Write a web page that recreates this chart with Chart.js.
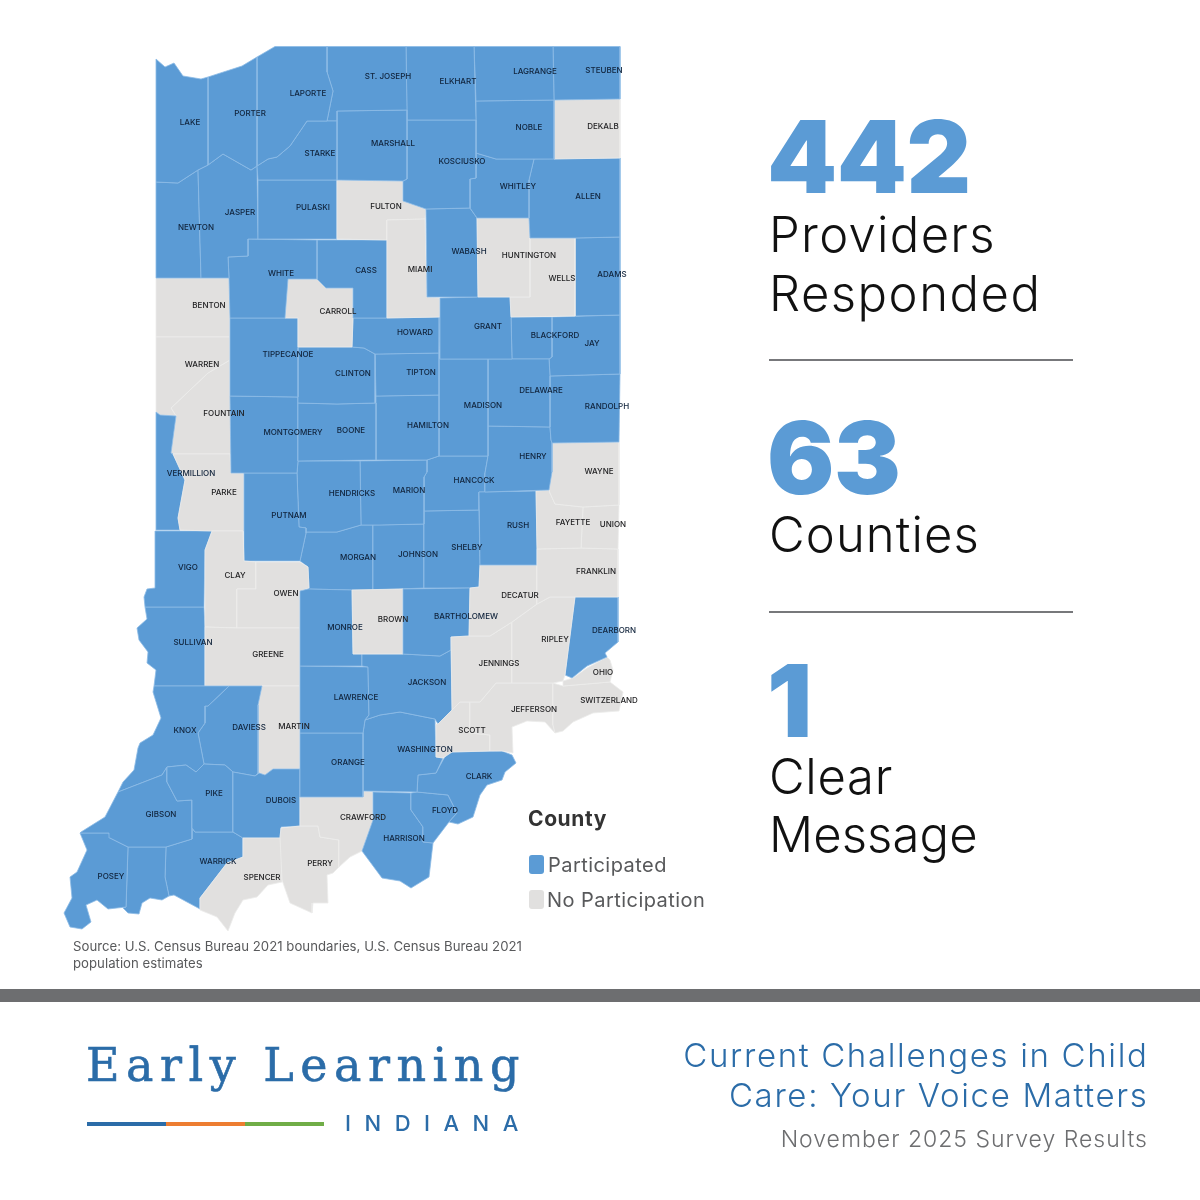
<!DOCTYPE html>
<html lang="en">
<head>
<meta charset="utf-8">
<title>Current Challenges in Child Care: Your Voice Matters</title>
<script src="https://cdn.jsdelivr.net/npm/chart.js@4/dist/chart.umd.min.js"></script>
<style>
html,body{margin:0;padding:0;background:#fff;}
#stage{position:relative;width:1200px;height:1200px;overflow:hidden;font-family:Inter,"Open Sans",sans-serif;}
#map{position:absolute;left:0;top:0;width:1200px;height:1200px;}
.t{position:absolute;white-space:nowrap;line-height:1;}
.big{left:767px;font-weight:900;font-size:100px;color:#5b9bd5;letter-spacing:-.5px;}
.sub{left:769px;font-weight:300;font-size:49px;color:#111;}
.rule{position:absolute;left:769px;width:304px;height:2px;background:#77787b;}
.swatch{position:absolute;left:529px;width:15px;height:19px;border-radius:3px;}
.leg{left:547px;font-size:20px;color:#58595b;letter-spacing:.45px;}
.src{left:73px;font-size:13.2px;color:#58595b;letter-spacing:.02px;}
.head{right:51.5px;font-size:33px;font-weight:300;color:#2b6ca8;letter-spacing:1.65px;}
</style>
</head>
<body>
<div id="stage">
<canvas id="map" width="1200" height="1200"></canvas>
<div class="t big" style="top:107px">442</div>
<div class="t sub" style="top:210px;letter-spacing:1.3px">Providers</div>
<div class="t sub" style="top:269px;letter-spacing:1.5px">Responded</div>
<div class="rule" style="top:359px"></div>
<div class="t big" style="top:408px">63</div>
<div class="t sub" style="top:510px;letter-spacing:1.1px">Counties</div>
<div class="rule" style="top:611px"></div>
<div class="t big" style="top:651px">1</div>
<div class="t sub" style="top:752px;letter-spacing:.7px">Clear</div>
<div class="t sub" style="top:810px;letter-spacing:.1px">Message</div>
<div class="t" style="left:528px;top:808px;font-size:21px;font-weight:700;color:#333;letter-spacing:.6px">County</div>
<div class="swatch" style="top:855px;background:#5b9bd5"></div>
<div class="t leg" style="top:855px;left:548px">Participated</div>
<div class="swatch" style="top:890px;background:#e1e0df"></div>
<div class="t leg" style="top:890px">No Participation</div>
<div class="t src" style="top:940px">Source: U.S. Census Bureau 2021 boundaries, U.S. Census Bureau 2021</div>
<div class="t src" style="top:957px">population estimates</div>
<div style="position:absolute;left:0;top:989px;width:1200px;height:13px;background:#6d6e70"></div>
<div class="t" style="left:86px;top:1042px;font-family:'DejaVu Serif',serif;font-size:46px;color:#2b6ca8;letter-spacing:6.5px;-webkit-text-stroke:.6px #2b6ca8">Early Learning</div>
<div style="position:absolute;left:87px;top:1122px;width:79px;height:4px;background:#2b6ca8"></div>
<div style="position:absolute;left:166px;top:1122px;width:79px;height:4px;background:#ed7d31"></div>
<div style="position:absolute;left:245px;top:1122px;width:79px;height:4px;background:#70ad47"></div>
<div class="t" style="left:345px;top:1112px;font-size:22px;font-weight:500;color:#2b6ca8;letter-spacing:13.5px">INDIANA</div>
<div class="t head" style="top:1039px">Current Challenges in Child</div>
<div class="t head" style="top:1079px">Care: Your Voice Matters</div>
<div class="t" style="right:52px;top:1128px;font-size:23px;font-weight:300;color:#6d6e70;letter-spacing:1px">November 2025 Survey Results</div>
</div>
<script>
// County outlines (x, y on the 1200 × 1200 map scales)
const LAKE=[[156,59],[165,67],[174,63],[183,76],[201,79],[208,77],[208,165],[198,170],[178,183],[156,182]];
const PORTER=[[208,77],[242,66],[257,57],[257,166],[251,170],[223,154],[208,165]];
const LAPORTE=[[257,57],[275,46.5],[327,46.5],[327,72],[333,91],[327,121],[307,121],[290,146],[277,157],[268,159],[257,166]];
const STARKE=[[307,121],[337,121],[337,180],[258,180],[257,166],[268,159],[277,157],[290,146]];
const ST_JOSEPH=[[327,46.5],[406,46.5],[407,110],[337,111],[337,121],[327,121],[333,91],[327,72]];
const MARSHALL=[[337,111],[407,110],[407,179],[403,181],[337,180]];
const ELKHART=[[406,46.5],[474,46.5],[476,120],[407,120]];
const KOSCIUSKO=[[407,120],[476,120],[476,153],[476,178],[470,179],[470,208],[426,209],[403,201],[403,181],[407,179]];
const LAGRANGE=[[474,46.5],[553,46.5],[554,100],[476,101]];
const STEUBEN=[[553,46.5],[620,46.5],[620,99],[554,100]];
const NOBLE=[[476,101],[554,100],[554,159],[496,159],[476,153]];
const DEKALB=[[554,100],[620,99],[620,158],[554,159]];
const WHITLEY=[[476,153],[496,159],[534,159],[529,180],[529,218],[477,218],[470,208],[470,179],[476,178]];
const ALLEN=[[534,159],[620,158],[620,237],[575,238],[530,238],[529,218],[529,180]];
const HUNTINGTON=[[477,218],[529,218],[530,238],[530,297],[478,297]];
const WELLS=[[530,238],[575,238],[575,316],[511,317],[510,297],[530,297]];
const ADAMS=[[575,238],[620,237],[620,315],[575,316]];
const WABASH=[[426,209],[470,208],[477,218],[478,297],[427,297]];
const GRANT=[[440,298],[478,297],[510,297],[511,317],[512,359],[488,359],[440,359]];
const MIAMI=[[387,220],[425,219],[427,297],[440,298],[440,317],[387,318]];
const FULTON=[[337,180],[403,181],[403,201],[426,209],[425,219],[387,220],[387,240],[337,239]];
const PULASKI=[[258,180],[337,180],[337,239],[258,239]];
const JASPER=[[198,170],[208,165],[223,154],[251,170],[257,166],[258,239],[248,239],[248,256],[228,257],[229,278],[201,278]];
const NEWTON=[[156,182],[178,183],[198,170],[201,278],[156,278]];
const WHITE=[[248,239],[317,240],[317,279],[288,279],[285,318],[230,318],[229,278],[228,257],[248,256]];
const CASS=[[317,240],[387,240],[387,318],[353,318],[353,288],[326,288],[317,279]];
const CARROLL=[[288,279],[317,279],[326,288],[353,288],[353,318],[352,347],[298,347],[298,318],[285,318]];
const HOWARD=[[353,318],[387,318],[440,317],[439,353],[380,354],[375,354],[364,348],[352,347]];
const TIPPECANOE=[[230,318],[285,318],[298,318],[298,347],[298,397],[230,396]];
const CLINTON=[[298,347],[352,347],[364,348],[375,354],[375,403],[337,404],[298,403]];
const TIPTON=[[375,354],[439,353],[439,395],[380,396],[376,396]];
const BOONE=[[298,403],[337,404],[376,403],[376,460],[298,461]];
const MONTGOMERY=[[230,396],[298,397],[298,461],[297,473],[244,473],[231,473]];
const HAMILTON=[[376,396],[439,395],[439,456],[427,460],[376,460]];
const MADISON=[[439,359],[488,359],[488,456],[439,456]];
const DELAWARE=[[488,359],[512,359],[549,359],[550,376],[550,427],[488,426]];
const BLACKFORD=[[511,317],[552,317],[552,357],[549,359],[512,359]];
const JAY=[[552,317],[620,315],[620,374],[550,376],[549,359],[552,357]];
const RANDOLPH=[[550,376],[620,374],[619,442],[552,443],[551,440],[550,427]];
const HENRY=[[488,426],[550,427],[551,440],[552,443],[552,472],[549,490],[485,492],[485,473],[488,456]];
const WAYNE=[[552,443],[619,442],[619,505],[583,507],[555,504],[550,493],[549,490],[552,472]];
const FAYETTE=[[536,491],[549,490],[550,493],[555,504],[583,507],[581,548],[537,549]];
const UNION=[[583,507],[619,505],[618,549],[581,548]];
const FRANKLIN=[[537,549],[581,548],[618,549],[618,597],[575,597],[550,597],[537,604]];
const RUSH=[[479,492],[536,491],[537,549],[537,565],[480,565]];
const DECATUR=[[480,565],[537,565],[537,604],[512,622],[490,636],[469,636],[470,588],[479,587]];
const RIPLEY=[[512,622],[537,604],[550,597],[575,597],[565,675],[563,681],[553,683],[512,683]];
const JENNINGS=[[451,637],[469,636],[490,636],[512,622],[512,683],[496,683],[480,702],[460,702],[452,710]];
const DEARBORN=[[575,597],[618,597],[618,642],[605,653],[607,657],[587,666],[572,678],[565,675]];
const OHIO=[[607,657],[610,660],[613,670],[610,682],[563,686],[563,681],[573,678],[587,668]];
const SWITZERLAND=[[553,683],[563,686],[610,682],[623,692],[619,711],[593,713],[573,722],[563,731],[555,733],[553,725]];
const JEFFERSON=[[496,683],[553,683],[553,725],[555,733],[545,722],[527,721],[512,727],[513,753],[502,751],[490,751],[490,735],[470,733],[470,702],[480,702]];
const SCOTT=[[452,710],[460,702],[470,702],[470,733],[490,735],[490,751],[452,752],[443,758],[436,757],[436,724],[438,724]];
const BARTHOLOMEW=[[403,589],[470,588],[469,636],[451,637],[451,650],[440,656],[403,654]];
const BROWN=[[352,590],[403,589],[403,654],[353,654]];
const JACKSON=[[362,654],[403,654],[440,656],[451,650],[452,710],[438,724],[435,719],[400,712],[380,715],[365,720],[369,715],[368,667],[362,666]];
const MONROE=[[300,591],[308,589],[352,590],[353,654],[362,654],[362,666],[300,666]];
const LAWRENCE=[[300,666],[368,667],[369,715],[365,720],[363,733],[300,733]];
const ORANGE=[[300,733],[363,733],[363,797],[300,797]];
const WASHINGTON=[[365,720],[380,715],[400,712],[435,719],[436,757],[443,758],[436,773],[418,775],[417,792],[363,791],[363,733]];
const CLARK=[[443,760],[448,752],[502,751],[512,755],[516,763],[505,772],[502,780],[487,785],[480,795],[473,817],[458,824],[449,822],[457,813],[448,795],[417,792],[418,775],[436,773]];
const FLOYD=[[417,792],[448,795],[457,813],[449,822],[433,843],[423,842],[423,827],[411,810],[411,793]];
const HARRISON=[[373,792],[411,793],[411,810],[423,827],[423,842],[433,843],[429,877],[411,888],[400,881],[382,878],[362,851],[373,820]];
const CRAWFORD=[[300,797],[363,797],[363,791],[373,792],[373,820],[362,851],[350,857],[339,867],[339,840],[320,837],[318,826],[300,826]];
const PERRY=[[281,828],[300,826],[318,826],[320,837],[339,840],[339,867],[333,873],[327,875],[328,903],[313,903],[312,913],[290,903],[282,880],[280,837]];
const SPENCER=[[243,838],[281,838],[282,882],[268,885],[257,897],[243,900],[235,913],[228,931],[217,917],[200,910],[200,898],[227,863],[243,857]];
const DUBOIS=[[233,772],[255,776],[259,773],[265,775],[273,769],[300,769],[300,826],[281,827],[280,838],[243,838],[233,832]];
const PIKE=[[167,767],[186,765],[196,772],[204,764],[225,765],[233,772],[233,832],[195,832],[192,828],[192,800],[177,801],[167,782]];
const GIBSON=[[118,792],[162,775],[167,767],[167,782],[177,801],[192,800],[192,828],[192,839],[166,847],[128,847],[110,838],[109,833],[80,833],[81,832],[105,817]];
const POSEY=[[80,833],[109,833],[110,838],[128,847],[126,907],[108,909],[97,900],[86,905],[91,922],[82,929],[70,927],[64,913],[72,898],[70,877],[77,872],[87,850]];
const VANDERBURGH=[[128,847],[166,847],[165,877],[169,896],[162,900],[150,898],[142,903],[139,914],[128,913],[123,908],[126,907]];
const WARRICK=[[166,847],[192,839],[192,828],[195,832],[233,832],[243,838],[243,857],[227,863],[200,898],[200,909],[174,895],[169,896],[165,877]];
const KNOX=[[154,686],[203,686],[229,686],[208,706],[205,706],[205,723],[198,733],[204,764],[196,772],[186,765],[167,767],[162,775],[118,792],[123,782],[134,770],[138,748],[140,743],[153,735],[161,718],[153,692]];
const DAVIESS=[[229,686],[262,686],[258,705],[258,773],[255,776],[233,772],[225,765],[204,764],[198,733],[205,723],[205,706],[208,706]];
const MARTIN=[[262,686],[300,686],[300,769],[273,769],[265,775],[259,773],[258,773],[258,705]];
const GREENE=[[205,627],[237,628],[300,628],[300,686],[205,686]];
const OWEN=[[256,562],[300,562],[308,567],[309,588],[300,591],[300,628],[237,628],[237,589],[256,589]];
const CLAY=[[212,531],[243,531],[244,561],[256,562],[256,589],[237,589],[237,628],[205,627],[205,550]];
const PUTNAM=[[244,473],[297,473],[299,527],[306,528],[306,533],[300,561],[244,561]];
const PARKE=[[173,454],[230,454],[231,473],[244,473],[244,531],[212,531],[180,530],[178,518],[185,480]];
const VERMILLION=[[156,412],[160,415],[176,416],[171,453],[173,454],[185,480],[178,518],[180,530],[156,530]];
const WARREN=[[156,337],[230,337],[230,360],[208,373],[171,408],[176,416],[160,415],[156,412]];
const FOUNTAIN=[[230,360],[230,396],[231,454],[173,454],[171,453],[176,416],[171,408],[208,373]];
const BENTON=[[156,278],[229,278],[230,318],[230,337],[156,337]];
const VIGO=[[155,531],[212,531],[205,550],[204,607],[145,607],[144,597],[147,589],[155,588]];
const SULLIVAN=[[145,607],[204,607],[205,627],[205,686],[154,686],[156,670],[147,663],[148,652],[139,640],[137,628],[147,619]];
const HENDRICKS=[[298,461],[360,461],[361,525],[337,532],[306,532],[306,528],[299,527],[297,473]];
const MARION=[[360,461],[427,460],[427,472],[424,477],[424,524],[380,525],[361,525]];
const HANCOCK=[[427,460],[439,456],[488,456],[485,473],[485,492],[479,492],[479,510],[424,511],[424,477],[427,472]];
const SHELBY=[[424,511],[479,510],[480,565],[479,587],[470,588],[424,588]];
const JOHNSON=[[373,525],[424,524],[424,588],[373,590]];
const MORGAN=[[306,533],[306,532],[337,532],[361,525],[373,525],[373,590],[352,590],[308,589],[309,588],[308,567],[300,561]];

// name, outline, label x, label y
const countyNames=["LAKE","PORTER","LAPORTE","STARKE","ST. JOSEPH","MARSHALL","ELKHART","KOSCIUSKO","LAGRANGE","STEUBEN","NOBLE","DEKALB","WHITLEY","ALLEN","HUNTINGTON","WELLS","ADAMS","WABASH","GRANT","MIAMI","FULTON","PULASKI","JASPER","NEWTON","WHITE","CASS","CARROLL","HOWARD","TIPPECANOE","CLINTON","TIPTON","BOONE","MONTGOMERY","HAMILTON","MADISON","DELAWARE","BLACKFORD","JAY","RANDOLPH","HENRY","WAYNE","FAYETTE","UNION","FRANKLIN","RUSH","DECATUR","RIPLEY","JENNINGS","DEARBORN","OHIO","SWITZERLAND","JEFFERSON","SCOTT","BARTHOLOMEW","BROWN","JACKSON","MONROE","LAWRENCE","ORANGE","WASHINGTON","CLARK","FLOYD","HARRISON","CRAWFORD","PERRY","SPENCER","DUBOIS","PIKE","GIBSON","POSEY","VANDERBURGH","WARRICK","KNOX","DAVIESS","MARTIN","GREENE","OWEN","CLAY","PUTNAM","PARKE","VERMILLION","WARREN","FOUNTAIN","BENTON","VIGO","SULLIVAN","HENDRICKS","MARION","HANCOCK","SHELBY","JOHNSON","MORGAN"];
const countyOutlines=[LAKE,PORTER,LAPORTE,STARKE,ST_JOSEPH,MARSHALL,ELKHART,KOSCIUSKO,LAGRANGE,STEUBEN,NOBLE,DEKALB,WHITLEY,ALLEN,HUNTINGTON,WELLS,ADAMS,WABASH,GRANT,MIAMI,FULTON,PULASKI,JASPER,NEWTON,WHITE,CASS,CARROLL,HOWARD,TIPPECANOE,CLINTON,TIPTON,BOONE,MONTGOMERY,HAMILTON,MADISON,DELAWARE,BLACKFORD,JAY,RANDOLPH,HENRY,WAYNE,FAYETTE,UNION,FRANKLIN,RUSH,DECATUR,RIPLEY,JENNINGS,DEARBORN,OHIO,SWITZERLAND,JEFFERSON,SCOTT,BARTHOLOMEW,BROWN,JACKSON,MONROE,LAWRENCE,ORANGE,WASHINGTON,CLARK,FLOYD,HARRISON,CRAWFORD,PERRY,SPENCER,DUBOIS,PIKE,GIBSON,POSEY,VANDERBURGH,WARRICK,KNOX,DAVIESS,MARTIN,GREENE,OWEN,CLAY,PUTNAM,PARKE,VERMILLION,WARREN,FOUNTAIN,BENTON,VIGO,SULLIVAN,HENDRICKS,MARION,HANCOCK,SHELBY,JOHNSON,MORGAN];
const noParticipation=["BENTON","WARREN","FOUNTAIN","PARKE","CLAY","OWEN","GREENE","MARTIN","CARROLL","FULTON","MIAMI","BROWN","CRAWFORD","PERRY","SPENCER","DEKALB","HUNTINGTON","WELLS","WAYNE","FAYETTE","UNION","FRANKLIN","DECATUR","RIPLEY","JENNINGS","OHIO","SWITZERLAND","JEFFERSON","SCOTT"];
const unlabeled=["VANDERBURGH"];
const labelX=[190,250,308,320,388,393,458,462,535,604,529,603,518,588,529,562,612,469,488,420,386,313,240,196,281,366,338,415,288,353,421,351,293,428,483,541,555,592,607,533,599,573,613,596,518,520,555,499,614,603,609,534,472,466,393,427,345,356,348,425,479,445,404,363,320,262,281,214,161,111,0,218,185,249,294,268,286,235,289,224,191,202,224,209,188,193,352,409,474,467,418,358];
const labelY=[122,113,93,153,76,143,81,161,71,70,127,126,186,196,255,278,274,251,326,269,206,207,212,227,273,270,311,332,354,373,372,430,432,425,405,390,335,343,406,456,471,522,524,571,525,595,639,663,630,672,700,709,730,616,619,682,627,697,762,749,776,810,838,817,863,877,800,793,814,876,0,861,730,727,726,654,593,575,515,492,473,364,413,305,567,642,493,490,480,547,554,557];

const BLUE="#5b9bd5", GREY="#e1e0df", BLUE_EDGE="#8dbbe6", GREY_EDGE="#ececeb";

const countyLabels={
  id:"countyLabels",
  afterDatasetsDraw(chart){
    const {ctx,scales:{x,y}}=chart;
    ctx.save();
    ctx.font='500 8px Inter, sans-serif';
    ctx.textAlign="center";ctx.textBaseline="middle";
    countyNames.forEach((n,i)=>{
      if(unlabeled.includes(n))return;
      ctx.fillStyle=noParticipation.includes(n)?"#1d1d1f":"#10233b";
      ctx.fillText(n,x.getPixelForValue(labelX[i]),y.getPixelForValue(labelY[i])+0.8);
    });
    ctx.restore();
  }
};

new Chart(document.getElementById("map"),{
  type:"scatter",
  data:{datasets:countyNames.map((n,i)=>{
    const off=noParticipation.includes(n);
    const pts=countyOutlines[i].map(p=>({x:p[0],y:p[1]}));
    pts.push({x:pts[0].x,y:pts[0].y});
    return {label:n,data:pts,showLine:true,fill:"shape",tension:0,
      backgroundColor:off?GREY:BLUE,borderColor:off?GREY_EDGE:BLUE_EDGE,borderWidth:0.8,pointRadius:0,pointHoverRadius:0};
  })},
  options:{
    responsive:false,animation:false,devicePixelRatio:1,events:[],
    layout:{padding:0},
    plugins:{legend:{display:false},tooltip:{enabled:false},title:{display:false}},
    scales:{
      x:{type:"linear",min:0,max:1200,display:false},
      y:{type:"linear",min:0,max:1200,reverse:true,display:false}
    }
  },
  plugins:[countyLabels]
});
</script>
</body>
</html>
